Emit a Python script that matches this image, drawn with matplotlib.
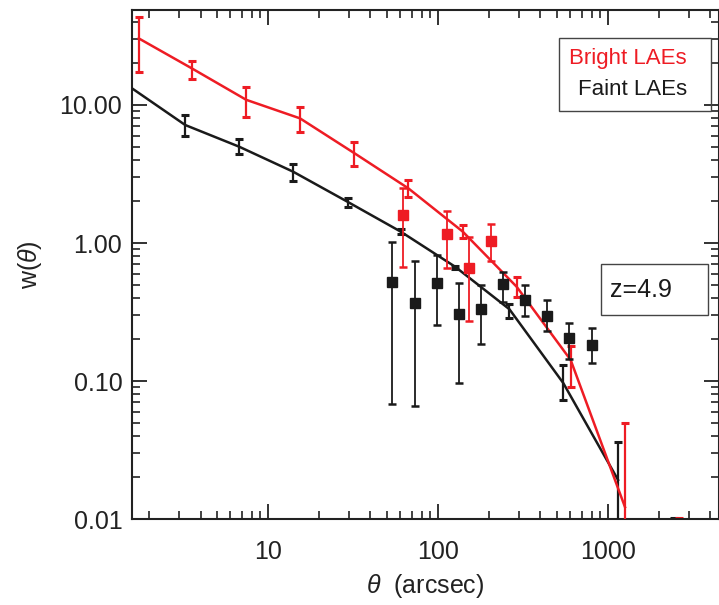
import numpy as np
import matplotlib
matplotlib.use('Agg')
import matplotlib.pyplot as plt
from matplotlib.patches import Rectangle
from matplotlib.ticker import FixedLocator, LogLocator, NullFormatter

plt.rcParams['font.family'] = ['Liberation Sans', 'DejaVu Sans']
plt.rcParams['mathtext.fontset'] = 'custom'
plt.rcParams['mathtext.rm'] = 'Liberation Sans'
plt.rcParams['mathtext.it'] = 'Liberation Sans:italic'

# bright LAEs, model line with error bars
bright_x = [1.73, 3.56, 7.43, 15.4, 32.2, 66.8, 139.6, 290, 603, 1259]
bright_y = [30.4, 18.4, 10.9, 8.0, 4.47, 2.49, 1.21, 0.482, 0.142, 0.0122]
bright_hi = [43.2, 20.8, 13.4, 9.6, 5.37, 2.86, 1.35, 0.567, 0.180, 0.0497]
bright_lo = [17.4, 15.4, 8.2, 6.4, 3.61, 2.17, 1.09, 0.408, 0.090, 0.001]

# faint LAEs, model line with error bars
faint_x = [1.58, 3.25, 6.74, 14.0, 29.3, 60.2, 126, 263, 545, 1146]
faint_y = [13.2, 7.16, 4.99, 3.29, 1.99, 1.21, 0.673, 0.331, 0.0968, 0.0192]
faint_hi = [13.2, 8.47, 5.64, 3.76, 2.11, 1.26, 0.686, 0.360, 0.131, 0.0363]
faint_lo = [13.2, 5.99, 4.39, 2.81, 1.81, 1.16, 0.648, 0.285, 0.0728, 0.001]

# points below the plotted range (only caps show)
low_bright_x, low_bright_y, low_bright_hi = [2600], [0.005], [0.0102]
low_faint_x, low_faint_y, low_faint_hi = [2450], [0.005], [0.0102]

# square symbols
sq_bright_x = [61.9, 112.4, 152, 205]
sq_bright_y = [1.60, 1.16, 0.662, 1.04]
sq_bright_hi = [2.52, 1.70, 1.10, 1.37]
sq_bright_lo = [0.674, 0.655, 0.273, 0.741]

sq_faint_x = [53.6, 72.9, 98.2, 133, 178, 241, 325, 435, 590, 801]
sq_faint_y = [0.525, 0.370, 0.516, 0.304, 0.332, 0.502, 0.388, 0.297, 0.206, 0.183]
sq_faint_hi = [1.02, 0.741, 0.814, 0.516, 0.496, 0.616, 0.496, 0.386, 0.264, 0.243]
sq_faint_lo = [0.068, 0.0662, 0.253, 0.0962, 0.185, 0.374, 0.296, 0.230, 0.144, 0.134]

RED = '#ee1c24'
BLACK = '#1a1a1a'


def err(y, lo, hi):
    y = np.array(y)
    return [y - np.array(lo), np.array(hi) - y]


fig = plt.figure(figsize=(7.19, 6.05), dpi=100)
ax = fig.add_axes([0.1836, 0.1421, 0.8164, 0.8414])

ax.plot(faint_x, faint_y, color=BLACK, lw=1.8, zorder=3)
ax.errorbar(faint_x[1:], faint_y[1:], yerr=err(faint_y[1:], faint_lo[1:], faint_hi[1:]), fmt='none',
            ecolor=BLACK, elinewidth=1.6, capsize=2.8, capthick=2.2, zorder=3)
ax.plot(bright_x, bright_y, color=RED, lw=1.8, zorder=4)
ax.errorbar(bright_x, bright_y, yerr=err(bright_y, bright_lo, bright_hi), fmt='none',
            ecolor=RED, elinewidth=1.6, capsize=2.8, capthick=2.2, zorder=4)

ax.errorbar(low_faint_x, low_faint_y, yerr=err(low_faint_y, low_faint_y, low_faint_hi),
            fmt='none', ecolor=BLACK, elinewidth=1.6, capsize=2.8, capthick=2.2)
ax.errorbar(low_bright_x, low_bright_y, yerr=err(low_bright_y, low_bright_y, low_bright_hi),
            fmt='none', ecolor=RED, elinewidth=1.6, capsize=2.8, capthick=2.2)

ax.errorbar(sq_faint_x, sq_faint_y, yerr=err(sq_faint_y, sq_faint_lo, sq_faint_hi),
            fmt='s', color=BLACK, ms=7.2, elinewidth=1.3, capsize=2.8, capthick=1.8, zorder=5)
ax.errorbar(sq_bright_x, sq_bright_y, yerr=err(sq_bright_y, sq_bright_lo, sq_bright_hi),
            fmt='s', color=RED, ms=7.2, elinewidth=1.3, capsize=2.8, capthick=1.8, zorder=6)

ax.set_xscale('log')
ax.set_yscale('log')
ax.set_xlim(1.58, 4500)
ax.set_ylim(0.01, 48.8)

ax.xaxis.set_major_locator(FixedLocator([10, 100, 1000]))
ax.set_xticklabels(['10', '100', '1000'])
ax.xaxis.set_minor_locator(LogLocator(base=10, subs=np.arange(2, 10)))
ax.xaxis.set_minor_formatter(NullFormatter())
ax.yaxis.set_major_locator(FixedLocator([0.01, 0.1, 1, 10]))
ax.set_yticklabels(['0.01', '0.10', '1.00', '10.00'])
ax.yaxis.set_minor_locator(LogLocator(base=10, subs=np.arange(2, 10)))
ax.yaxis.set_minor_formatter(NullFormatter())

ax.tick_params(which='both', direction='in', top=True, right=True, color='#222222')
ax.tick_params(which='major', length=11, width=1.3, labelsize=18, colors='#222222')
ax.tick_params(which='minor', length=5.5, width=1.2)
ax.tick_params(axis='x', which='major', pad=15)
ax.tick_params(axis='y', which='major', pad=7)
for s in ax.spines.values():
    s.set_linewidth(1.5)
    s.set_color('#222222')

ax.set_xlabel(r'$\it{\theta}$  (arcsec)', fontsize=18, color='#222222', labelpad=6)
ax.set_ylabel(r'w($\it{\theta}$)', fontsize=18, color='#222222', labelpad=11)

# legend box
ax.add_patch(Rectangle((0.727, 0.802), 0.259, 0.143, transform=ax.transAxes,
                       fill=False, ec='#444444', lw=1.0, zorder=7))
ax.text(0.945, 0.904, 'Bright LAEs', color=RED, fontsize=16, ha='right', va='center',
        transform=ax.transAxes)
ax.text(0.945, 0.843, 'Faint LAEs', color=BLACK, fontsize=16, ha='right', va='center',
        transform=ax.transAxes)

# redshift box
ax.add_patch(Rectangle((0.799, 0.401), 0.182, 0.100, transform=ax.transAxes,
                       fill=False, ec='#444444', lw=1.0, zorder=7))
ax.text(0.815, 0.450, 'z=4.9', color=BLACK, fontsize=18, ha='left', va='center',
        transform=ax.transAxes)

fig.savefig('out.png', dpi=100)
